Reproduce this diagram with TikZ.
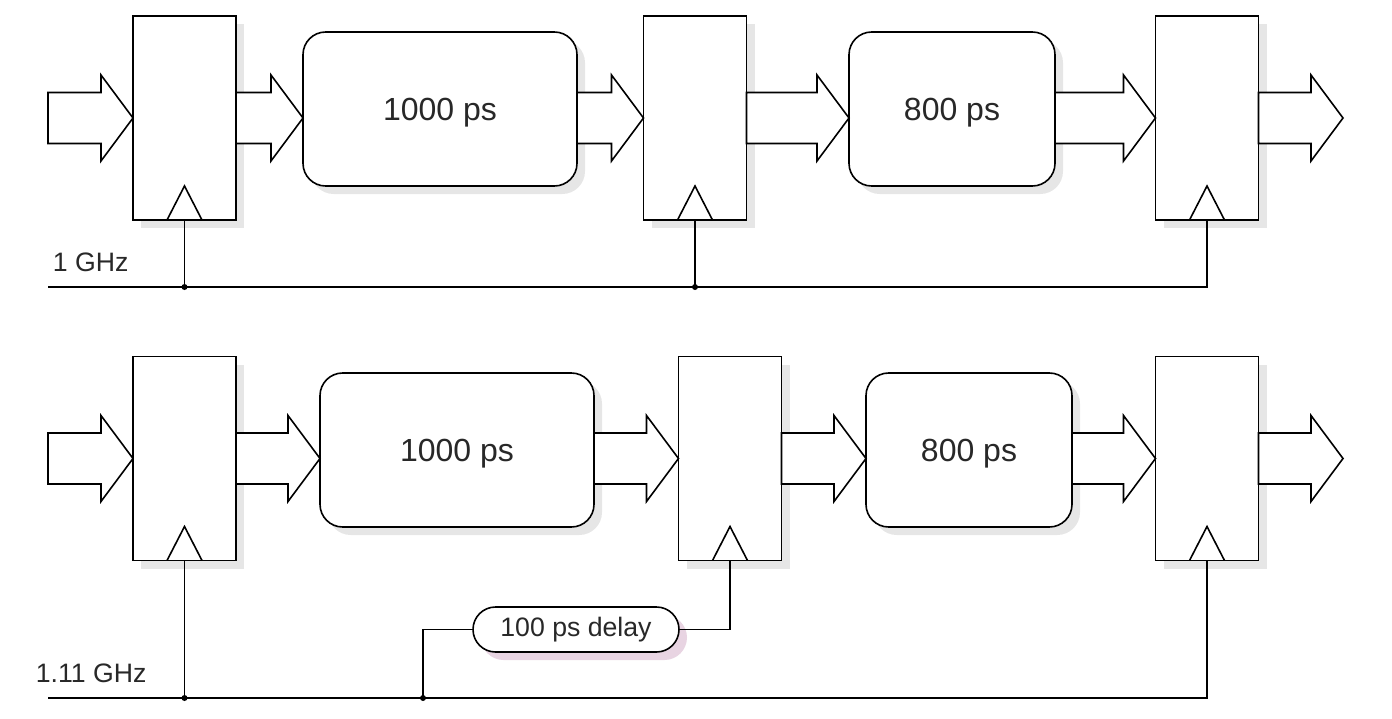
\documentclass[tikz,border=0pt]{standalone}
\usepackage{fontspec}
\setmainfont{Liberation Sans}
\usetikzlibrary{calc,shadows,shapes.misc}
\definecolor{shd}{RGB}{230,230,230}
\definecolor{pshd}{RGB}{232,212,226}
\definecolor{txt}{RGB}{40,40,40}
\begin{document}
\begin{tikzpicture}[x=0.75pt,y=-0.75pt,line width=1.2pt,line join=miter,
  reg/.style={draw,fill=white,minimum width=77.25pt,minimum height=153pt,inner sep=0pt,outer sep=0pt,
    drop shadow={shadow xshift=6pt,shadow yshift=-6pt,fill=shd,opacity=1}},
  stagebox/.style={draw,fill=white,rounded corners=17pt,minimum height=115.5pt,inner sep=0pt,outer sep=0pt,
    font=\fontsize{24}{28}\selectfont,text=txt,text depth=0pt,
    drop shadow={shadow xshift=6pt,shadow yshift=-6pt,fill=shd,opacity=1}},
  delaybox/.style={rounded rectangle,draw,fill=white,minimum width=154.5pt,minimum height=33.75pt,inner sep=0pt,outer sep=0pt,
    font=\fontsize{20}{24}\selectfont,text=txt,
    drop shadow={shadow xshift=6pt,shadow yshift=-6pt,fill=pshd,opacity=1}},
  lbl/.style={inner sep=0pt,font=\fontsize{20}{24}\selectfont,text=txt},
  jdot/.style={circle,fill=black,inner sep=0pt,minimum size=4.5pt},
  clk/.pic={\draw (-13.125pt,0pt) -- (0pt,25.5pt) -- (13.125pt,0pt);},
  fat/.style={draw,fill=white,to path={let \p1=(\tikztostart),\p2=(\tikztotarget) in
    (\x1,\y1+19.125pt) -- (\x2-24pt,\y1+19.125pt) -- (\x2-24pt,\y1+32.25pt) -- (\x2,\y1)
    -- (\x2-24pt,\y1-32.25pt) -- (\x2-24pt,\y1-19.125pt) -- (\x1,\y1-19.125pt) -- cycle}}
]
\useasboundingbox (0,0) rectangle (1392,718);

% ---------- top pipeline (1 GHz) ----------
\node[reg] (rA1) at (184.5,118) {};
\node[stagebox,minimum width=205.5pt] (bA1) at (440,109) {1000 ps};
\node[reg] (rA2) at (695,118) {};
\node[stagebox,minimum width=154.5pt] (bA2) at (952,109) {800 ps};
\node[reg] (rA3) at (1207,118) {};

\pic at (rA1.south) {clk};
\pic at (rA2.south) {clk};
\pic at (rA3.south) {clk};

\coordinate (inA) at (48,118);
\coordinate (outA) at (1343,118);
\draw[fat] (inA) to (rA1.west);
\draw[fat] (rA1.east) to (bA1.west |- rA1.center);
\draw[fat] (bA1.east |- rA2.center) to (rA2.west);
\draw[fat] (rA2.east) to (bA2.west |- rA2.center);
\draw[fat] (bA2.east |- rA3.center) to (rA3.west);
\draw[fat] (rA3.east) to (outA);

\coordinate (busA) at (48,287);
\node[jdot] (jA1) at (rA1.south |- busA) {};
\node[jdot] (jA2) at (rA2.south |- busA) {};
\coordinate (cA3) at (rA3.south |- busA);
\draw (rA1.south) -- (jA1.center);
\draw (rA2.south) -- (jA2.center);
\draw (busA) -- (jA1.center) -- (jA2.center) -- (cA3) -- (rA3.south);
\node[lbl,anchor=west] (fA) at (52,262) {1 GHz};

% ---------- bottom pipeline (1.11 GHz) ----------
\node[reg] (rB1) at (184.5,458.5) {};
\node[stagebox,minimum width=205.5pt] (bB1) at (457,450) {1000 ps};
\node[reg] (rB2) at (730,458.5) {};
\node[stagebox,minimum width=154.5pt] (bB2) at (969,450) {800 ps};
\node[reg] (rB3) at (1207,458.5) {};

\pic at (rB1.south) {clk};
\pic at (rB2.south) {clk};
\pic at (rB3.south) {clk};

\coordinate (inB) at (48,458.5);
\coordinate (outB) at (1343,458.5);
\draw[fat] (inB) to (rB1.west);
\draw[fat] (rB1.east) to (bB1.west |- rB1.center);
\draw[fat] (bB1.east |- rB2.center) to (rB2.west);
\draw[fat] (rB2.east) to (bB2.west |- rB2.center);
\draw[fat] (bB2.east |- rB3.center) to (rB3.west);
\draw[fat] (rB3.east) to (outB);

\node[delaybox] (dl) at (576,629.5) {100 ps delay};

\coordinate (busB) at (48,698);
\node[jdot] (jB1) at (rB1.south |- busB) {};
\node[jdot] (jB2) at (423,698) {};
\coordinate (cB3) at (rB3.south |- busB);
\draw (rB1.south) -- (jB1.center);
\draw (jB2.center) |- (dl.west);
\draw (dl.east) -| (rB2.south);
\draw (busB) -- (jB1.center) -- (jB2.center) -- (cB3) -- (rB3.south);
\node[lbl,anchor=west] (fB) at (35,673) {1.11 GHz};
\end{tikzpicture}
\end{document}
